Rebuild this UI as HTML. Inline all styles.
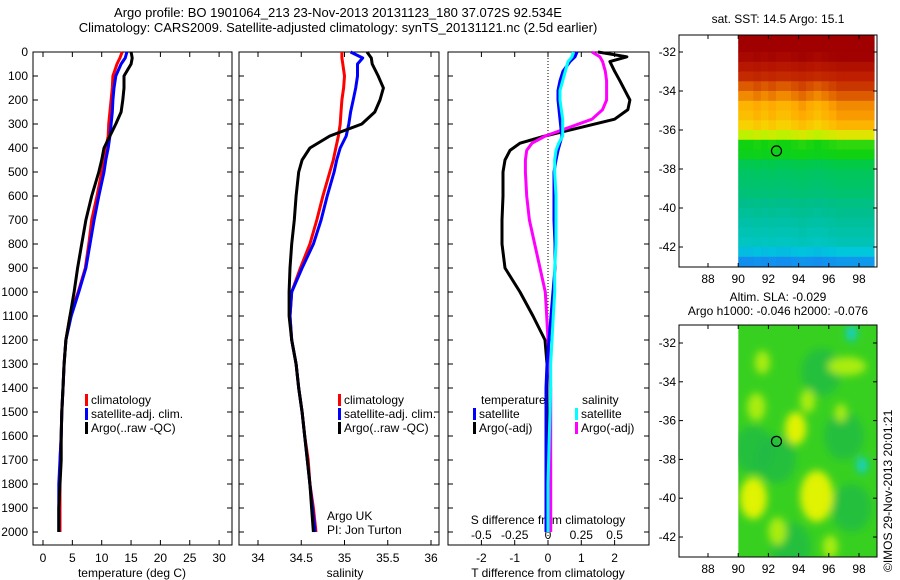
<!DOCTYPE html>
<html><head><meta charset="utf-8"><style>
html,body{margin:0;padding:0;background:#fff;}
svg{display:block;font-family:"Liberation Sans",sans-serif;}
</style></head><body>
<svg id="fig" width="900" height="580" viewBox="0 0 900 580" xmlns="http://www.w3.org/2000/svg">
<text x="338" y="17" font-size="13" text-anchor="middle">Argo profile: BO 1901064_213 23-Nov-2013 20131123_180 37.072S 92.534E</text>
<text x="338" y="32" font-size="13" text-anchor="middle">Climatology: CARS2009. Satellite-adjusted climatology: synTS_20131121.nc (2.5d earlier)</text>
</svg>
<script>
// ---------- data ----------
const depths = [0,25,50,100,150,200,250,300,350,400,450,500,600,700,800,900,1000,1100,1200,1300,1400,1500,1600,1700,1800,1900,2000];
const tempClim = [13.5,13.1,12.6,11.9,11.8,11.6,11.4,11.2,11.1,10.7,10.4,10.0,9.2,8.3,7.8,7.2,6.0,4.6,3.9,3.6,3.4,3.2,3.1,2.9,2.9,2.9,2.9];
const tempSat  = [14.3,14.0,13.3,12.4,12.1,11.9,11.8,11.6,11.4,11.1,10.7,10.4,9.5,8.7,8.0,7.3,6.1,4.8,3.9,3.6,3.4,3.2,3.1,2.9,2.7,2.7,2.7];
const tempArgo = [15.0,15.2,15.0,13.8,13.8,13.6,13.3,12.4,11.4,10.4,10.0,9.5,8.3,7.3,6.6,5.9,5.3,4.6,3.9,3.6,3.4,3.2,3.1,3.1,2.9,2.7,2.7];
const salClim = [34.97,34.97,34.98,35.00,34.99,34.97,34.96,34.95,34.93,34.90,34.87,34.83,34.75,34.68,34.60,34.49,34.39,34.37,34.39,34.44,34.47,34.51,34.54,34.58,34.60,34.64,34.67];
const salSat  = [35.07,35.21,35.15,35.15,35.13,35.10,35.07,35.05,35.02,34.95,34.91,34.88,34.80,34.73,34.64,34.51,34.39,34.37,34.39,34.44,34.47,34.51,34.54,34.57,34.60,34.63,34.66];
const salArgo = [35.26,35.31,35.32,35.39,35.45,35.41,35.35,35.20,34.83,34.60,34.51,34.47,34.44,34.42,34.39,34.37,34.36,34.36,34.39,34.44,34.47,34.51,34.54,34.57,34.60,34.62,34.64];
const diffDepths = [0,20,40,80,120,160,200,240,280,320,350,380,410,450,500,600,700,800,900,1000,1100,1200,1300,1400,1600,1800,2000];
const dTArgo = [1.5,2.37,1.86,2.0,2.16,2.31,2.46,2.4,2.0,0.81,-0.09,-0.84,-1.14,-1.29,-1.35,-1.35,-1.38,-1.38,-1.29,-0.84,-0.45,-0.09,-0.03,-0.03,-0.03,-0.03,-0.03];
const dTSat  = [0.87,0.81,0.66,0.45,0.36,0.3,0.3,0.33,0.36,0.39,0.42,0.36,0.3,0.24,0.18,0.18,0.18,0.21,0.21,0.15,0.09,0.03,-0.03,-0.06,-0.06,-0.06,-0.06];
const dSSat  = [0.19,0.18,0.15,0.13,0.11,0.09,0.09,0.1,0.11,0.11,0.11,0.08,0.06,0.05,0.05,0.06,0.06,0.06,0.05,0.05,0.04,0.03,0.02,0.02,0.01,0,0];
const dSArgo = [0.33,0.39,0.41,0.43,0.44,0.44,0.44,0.41,0.33,0.13,-0.02,-0.12,-0.16,-0.17,-0.17,-0.16,-0.14,-0.1,-0.06,-0.02,-0.01,0,0.01,0.02,0.02,0.02,0.02];
const depthTicks = [0,100,200,300,400,500,600,700,800,900,1000,1100,1200,1300,1400,1500,1600,1700,1800,1900,2000];
const tempTicks = [0,5,10,15,20,25,30];
const salTicks = [34,34.5,35,35.5,36];
const salTickLabels = ["34","34.5","35","35.5","36"];
const dTTicks = [-2,-1,0,1,2];
const dSTicks = [-0.5,-0.25,0,0.25,0.5];
const dSTickLabels = ["-0.5","-0.25","0","0.25","0.5"];
const lonTicks = [88,90,92,94,96,98];
const latTicks = [-32,-34,-36,-38,-40,-42];
const sstRows = [17,17,16.9,16.7,16.5,16.1,15.8,15.5,15.4,15.2,14.6,14.1,14.0,13.6,13.4,13.3,13.2,13.0,12.9,12.8,12.7,12.6,12.3,11.9];
const sstColOffsets = [0,0,0.1,0,0.1,0,0,0.1,0.2,0.1,0,0.1,0.2,0.3,0.3,0.3,0.3,0.3];
const slaLon = [91.0,95.2,93.8,91.2,92.6,97.2,97.5,98.2,96.1,94.6,91.6,96.8];
const slaLat = [-40.0,-39.9,-36.4,-35.3,-41.7,-33.2,-31.5,-38.3,-42.5,-35.0,-33.0,-35.6];
const slaRad = [0.9,1.1,0.7,0.6,0.6,0.8,0.35,0.35,0.5,0.5,0.5,0.4];
const slaLevel = [1,1,1,0.7,0.8,0.9,-1,-1,0.7,0.6,0.5,0.5];
const darkLon = [92.5,95.5,97.5,91.0,93.5,97.0];
const darkLat = [-38.0,-33.5,-40.5,-37.5,-42.5,-36.8];
const argoLon = 92.534, argoLat = -37.072;

// ---------- helpers ----------
const NS="http://www.w3.org/2000/svg";
const svg=document.getElementById('fig');
function mk(tag,attrs,parent){const e=document.createElementNS(NS,tag);for(const k in attrs)e.setAttribute(k,attrs[k]);(parent||svg).appendChild(e);return e;}
function txt(x,y,s,attrs,parent){const e=mk('text',Object.assign({x:x,y:y,'font-size':12},attrs||{}),parent);e.textContent=s;return e;}
const Y0=52, PY=0.24;
function yD(d){return Y0+d*PY;}
function xT(v){return 43+v*5.87;}
function xS(v){return 258+(v-34)*86.5;}
function xdT(v){return 548+v*33.3;}
function xdS(v){return 548+v*133.2;}
function line(xf,vals,deps,color,name,w){
  let p='';vals.forEach((v,i)=>{p+=(i?'L':'M')+xf(v).toFixed(1)+','+yD(deps[i]).toFixed(1);});
  const e=mk('path',{d:p,fill:'none',stroke:color,'stroke-width':w||3,'stroke-linejoin':'round'});
  
  
}
function frame(x0,x1,y0,y1,name){
  const e=mk('rect',{x:x0,y:y0,width:x1-x0,height:y1-y0,fill:'none',stroke:'#000','stroke-width':1});
  
  
}
function depthTicksOn(x0,x1,labels){
  depthTicks.forEach(d=>{const y=yD(d);
    mk('line',{x1:x0,y1:y,x2:x0+5,y2:y,stroke:'#000'});
    mk('line',{x1:x1,y1:y,x2:x1-5,y2:y,stroke:'#000'});
    if(labels){const t=txt(28,y+4,String(d),{'text-anchor':'end'});
      
      }
  });
}
function xTicks(xf,ticks,labels,y0,y1,ly){
  ticks.forEach((v,i)=>{const x=xf(v);
    mk('line',{x1:x,y1:y1,x2:x,y2:y1-5,stroke:'#000'});
    mk('line',{x1:x,y1:y0,x2:x,y2:y0+5,stroke:'#000'});
    const t=txt(x,ly,labels[i],{'text-anchor':'middle'});
    
    
  });
}
function legendEntry(x,y,color,label){
  const g=mk('g',{});
  
  
  mk('rect',{x:x,y:y-6,width:3,height:12,fill:color},g);
  txt(x+6,y+4,label,{},g);
}

// ---------- panel 1 ----------
const B=545;
frame(33,232,Y0,B,'temperature-panel');
depthTicksOn(33,232,true);
xTicks(xT,tempTicks,tempTicks.map(String),Y0,B,562);
txt(132,577,'temperature (deg C)',{'text-anchor':'middle'});
line(xT,tempClim,depths,'#ff0000','temperature-climatology-line');
line(xT,tempSat,depths,'#0000ff','temperature-satellite-line');
line(xT,tempArgo,depths,'#000000','temperature-argo-line');
legendEntry(85,400,'#ff0000','climatology');
legendEntry(85,414,'#0000ff','satellite-adj. clim.');
legendEntry(85,428,'#000000','Argo(..raw -QC)');

// ---------- panel 2 ----------
frame(239,439,Y0,B,'salinity-panel');
depthTicksOn(239,439,false);
xTicks(xS,salTicks,salTickLabels,Y0,B,562);
txt(345,577,'salinity',{'text-anchor':'middle'});
line(xS,salClim,depths,'#ff0000','salinity-climatology-line');
line(xS,salSat,depths,'#0000ff','salinity-satellite-line');
line(xS,salArgo,depths,'#000000','salinity-argo-line');
legendEntry(338,400,'#ff0000','climatology');
legendEntry(338,414,'#0000ff','satellite-adj. clim.');
legendEntry(338,428,'#000000','Argo(..raw -QC)');
txt(327,520,'Argo UK');
txt(327,534,'PI: Jon Turton');

// ---------- panel 3 ----------
frame(448,649,Y0,B,'difference-panel');
depthTicksOn(448,649,false);
mk('line',{x1:548,y1:Y0,x2:548,y2:B,stroke:'#000','stroke-dasharray':'1,2'});
xTicks(xdT,dTTicks,dTTicks.map(String),Y0,B,562);
dSTicks.forEach((v,i)=>{const t=txt(xdS(v),539,dSTickLabels[i],{'text-anchor':'middle'});
  
  });
txt(548,524,'S difference from climatology',{'text-anchor':'middle'});
txt(548,577,'T difference from climatology',{'text-anchor':'middle'});
line(xdT,dTArgo,diffDepths,'#000000','t-diff-argo-line');
line(xdS,dSArgo,diffDepths,'#ff00ff','s-diff-argo-line');
line(xdT,dTSat,diffDepths,'#0000ff','t-diff-satellite-line');
line(xdS,dSSat,diffDepths,'#00ffff','s-diff-satellite-line');
txt(481,404,'temperature');
txt(582,404,'salinity');
legendEntry(473,414,'#0000ff','satellite');
legendEntry(473,428,'#000000','Argo(-adj)');
legendEntry(575,414,'#00ffff','satellite');
legendEntry(575,428,'#ff00ff','Argo(-adj)');

// ---------- maps ----------
const MX0=679, MX1=877;
function mxLon(l){return 708+(l-88)*15.1;}
const cstops=[[11.5,[32,96,255]],[12.4,[0,200,220]],[13.0,[0,190,140]],[13.6,[0,200,80]],[14.1,[16,210,16]],[14.6,[190,240,0]],[15.1,[245,220,0]],[15.6,[255,170,0]],[16.1,[220,90,0]],[16.6,[190,30,0]],[17,[160,0,0]]];
function cmap(v){if(v<=cstops[0][0])return 'rgb('+cstops[0][1]+')';
  for(let i=1;i<cstops.length;i++){if(v<=cstops[i][0]){const a=cstops[i-1],b=cstops[i],t=(v-a[0])/(b[0]-a[0]);
    return 'rgb('+a[1].map((c,k)=>Math.round(c+(b[1][k]-c)*t)).join(',')+')';}}
  return 'rgb('+cstops[cstops.length-1][1]+')';}

function mapAxes(yTop,yBot,latY,name){
  frame(MX0,MX1,yTop,yBot,name);
  lonTicks.forEach(l=>{const x=mxLon(l);
    mk('line',{x1:x,y1:yBot,x2:x,y2:yBot-4,stroke:'#000'});
    mk('line',{x1:x,y1:yTop,x2:x,y2:yTop+4,stroke:'#000'});
    const t=txt(x,yBot+16,String(l),{'text-anchor':'middle'});
    
    });
  latTicks.forEach(l=>{const y=latY(l);
    mk('line',{x1:MX0,y1:y,x2:MX0+4,y2:y,stroke:'#000'});
    mk('line',{x1:MX1,y1:y,x2:MX1-4,y2:y,stroke:'#000'});
    const t=txt(676,y+4,String(l),{'text-anchor':'end'});
    
    });
}
function latY1(l){return 52+(-32-l)*19.5;}
const sstG=mk('g',{});


sstRows.forEach((v,r)=>{
  const la0=-31+(-0.5*r), y0=Math.max(35,latY1(la0)), y1=Math.min(267,latY1(la0-0.5));
  sstColOffsets.forEach((o,c)=>{
    const x0=mxLon(90+0.5*c), x1=Math.min(MX1,mxLon(90.5+0.5*c));
    const cell=mk('rect',{x:x0.toFixed(1),y:y0.toFixed(1),width:(x1-x0+0.5).toFixed(1),height:(y1-y0+0.5).toFixed(1),fill:cmap(v+o*(v>14.3&&v<16.2?1:0.3))},sstG);
    
    
  });
});
mapAxes(35,267,latY1,'sst-map');
mk('circle',{cx:mxLon(argoLon),cy:latY1(argoLat),r:5,fill:'none',stroke:'#000','stroke-width':1.2});
txt(778,23,'sat. SST: 14.5 Argo: 15.1',{'text-anchor':'middle'});

function latY2(l){return 343+(-32-l)*19.4;}
const defs=mk('defs',{});
const flt=mk('filter',{id:'blur',x:'-50%',y:'-50%',width:'200%',height:'200%'},defs);
mk('feGaussianBlur',{stdDeviation:4},flt);
const clip=mk('clipPath',{id:'slaclip'},defs);
mk('rect',{x:mxLon(90),y:325,width:MX1-mxLon(90),height:232},clip);
const slaG=mk('g',{'clip-path':'url(#slaclip)'});


mk('rect',{x:mxLon(90),y:325,width:MX1-mxLon(90),height:232,fill:'#38d020'},slaG);
const blobG=mk('g',{filter:'url(#blur)'},slaG);
darkLon.forEach((l,i)=>{
  const d=mk('ellipse',{cx:mxLon(l),cy:latY2(darkLat[i]),rx:20,ry:24,fill:'#20b848',opacity:0.7},blobG);
  
  
});
slaLon.forEach((l,i)=>{
  const lv=slaLevel[i];
  const col=lv<0?'#10d0d8':(lv>0.9?'#e8f400':'#b0ee10');
  const b=mk('ellipse',{cx:mxLon(l),cy:latY2(slaLat[i]),rx:slaRad[i]*15.1*(i==5?1.6:1),ry:slaRad[i]*19.4*(i==5?0.6:1.2),fill:col,opacity:0.95},blobG);
  
  
});
mapAxes(325,557,latY2,'sla-map');
mk('circle',{cx:mxLon(argoLon),cy:latY2(argoLat),r:5,fill:'none',stroke:'#000','stroke-width':1.2});
txt(778,301,'Altim. SLA: -0.029',{'text-anchor':'middle'});
txt(778,315,'Argo h1000: -0.046 h2000: -0.076',{'text-anchor':'middle'});
const im=txt(0,0,'\u00A9IMOS 29-Nov-2013 20:01:21',{transform:'translate(892,572) rotate(-90)'});


</script>
</body></html>
